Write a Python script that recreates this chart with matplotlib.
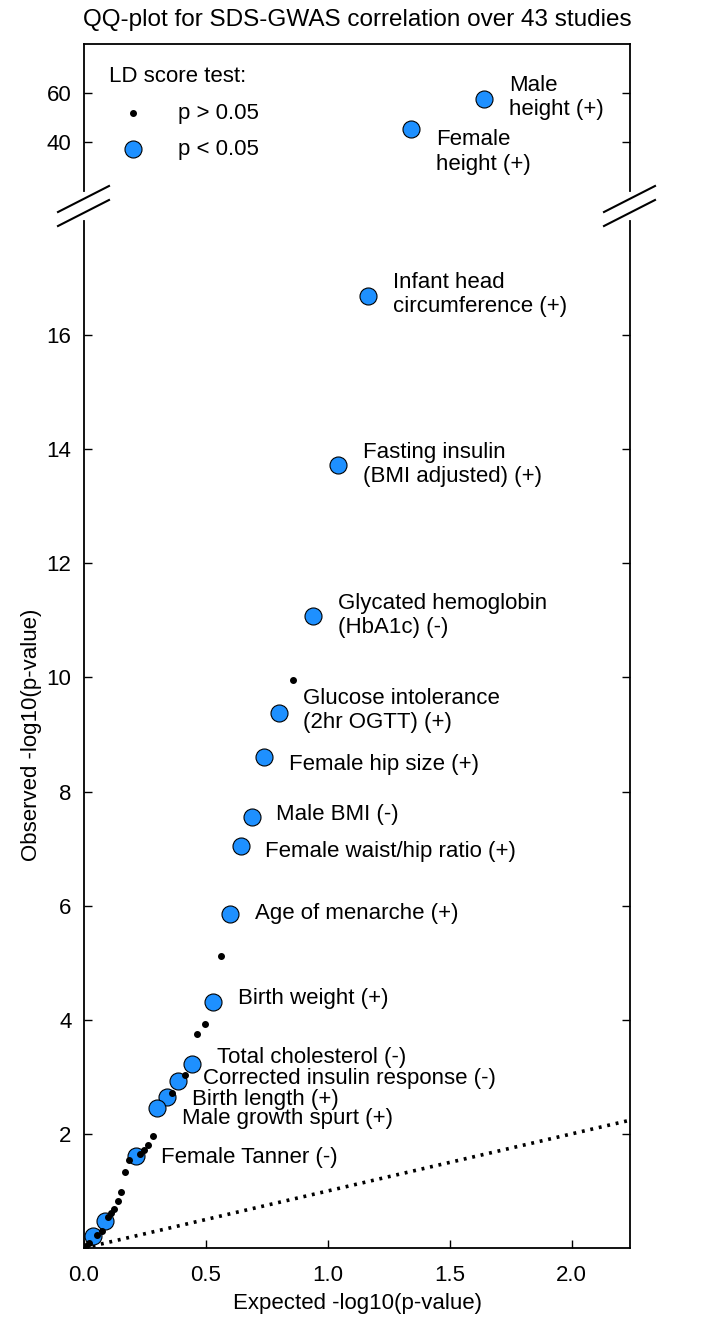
import matplotlib
matplotlib.use('Agg')
import matplotlib.pyplot as plt
import numpy as np

plt.rcParams['font.family'] = ['Liberation Sans', 'DejaVu Sans']

# studies with p < 0.05 (LD score test), labelled
sig_names = ['Male\nheight (+)', 'Female\nheight (+)', 'Infant head\ncircumference (+)',
             'Fasting insulin\n(BMI adjusted) (+)', 'Glycated hemoglobin\n(HbA1c) (-)',
             'Glucose intolerance\n(2hr OGTT) (+)', 'Female hip size (+)', 'Male BMI (-)',
             'Female waist/hip ratio (+)', 'Age of menarche (+)', 'Birth weight (+)',
             'Total cholesterol (-)', 'Corrected insulin response (-)', 'Birth length (+)',
             'Male growth spurt (+)', 'Female Tanner (-)', '', '']
sig_x = [1.64, 1.34, 1.166, 1.04, 0.94, 0.80, 0.74, 0.69, 0.645, 0.60, 0.529,
         0.443, 0.386, 0.341, 0.30, 0.214, 0.086, 0.038]
sig_y = [57.5, 45.3, 16.68, 13.72, 11.07, 9.37, 8.61, 7.56, 7.04, 5.86, 4.32,
         3.23, 2.93, 2.65, 2.46, 1.61, 0.47, 0.21]

# studies with p > 0.05
ns_x = [0.858, 0.563, 0.497, 0.465, 0.413, 0.361, 0.282, 0.264, 0.245, 0.230,
        0.183, 0.168, 0.152, 0.138, 0.124, 0.111, 0.099, 0.072, 0.055, 0.020, 0.010]
ns_y = [9.95, 5.12, 3.93, 3.75, 3.03, 2.72, 1.96, 1.80, 1.72, 1.65,
        1.54, 1.34, 0.99, 0.82, 0.68, 0.61, 0.55, 0.30, 0.23, 0.08, 0.03]

# label offsets (pixels, dx, dy)
offs = [(25, 2), (25, -23), (25, 2), (25, 1), (25, 1), (24, 3), (25, -8), (24, 2),
        (24, -5), (25, 0), (25, 3), (25, 6), (25, 2), (25, -3), (25, -11), (25, -1),
        (0, 0), (0, 0)]

sig_x = np.array(sig_x)
sig_y = np.array(sig_y)
ns_x = np.array(ns_x)
ns_y = np.array(ns_y)

fig = plt.figure(figsize=(7.28, 13.18), dpi=100)
ax_top = fig.add_axes([0.1154, 0.8551, 0.75, 0.1115])
ax = fig.add_axes([0.1154, 0.0531, 0.75, 0.7792])

blue = '#1E90FF'
for a, upper in ((ax_top, True), (ax, False)):
    ms = (sig_y > 18) if upper else (sig_y <= 18)
    mn = (ns_y > 18) if upper else (ns_y <= 18)
    a.plot([0, 2.3], [0, 2.3], color='black', lw=2.6, linestyle=(0, (0.8, 1.6)), zorder=1)
    a.scatter(ns_x[mn], ns_y[mn], s=16, color='black', zorder=3, label='p > 0.05')
    a.scatter(sig_x[ms], sig_y[ms], s=150, color=blue, edgecolor='black', linewidth=0.8,
              zorder=2, label='p < 0.05')
    a.set_xlim(0, 2.24)
    a.tick_params(direction='in', length=6, width=1, labelsize=16, right=True, pad=9)
    for sp in a.spines.values():
        sp.set_linewidth(1.3)

ax_top.set_ylim(20, 80)
ax_top.set_yticks([40, 60])
ax_top.spines['bottom'].set_visible(False)
ax_top.tick_params(bottom=False, labelbottom=False)

ax.set_ylim(0, 18)
ax.set_yticks([2, 4, 6, 8, 10, 12, 14, 16])
ax.set_xticks([0.0, 0.5, 1.0, 1.5, 2.0])
ax.set_xticklabels(['0.0', '0.5', '1.0', '1.5', '2.0'])
ax.spines['top'].set_visible(False)
ax.tick_params(axis='x', pad=12)

for name, x, y, (dx, dy) in zip(sig_names, sig_x, sig_y, offs):
    if not name:
        continue
    target = ax_top if y > 18 else ax
    target.annotate(name, (x, y), xytext=(dx, dy), textcoords='offset pixels',
                    ha='left', va='center', fontsize=16, linespacing=1.2,
                    zorder=4)

# break marks
for xs in (84, 630):
    for y0 in (212, 226):
        fig.add_artist(plt.Line2D([(xs - 26) / 728, (xs + 25) / 728],
                                  [1 - y0 / 1318, 1 - (y0 - 26) / 1318],
                                  color='black', lw=1.5))

leg = ax_top.legend(loc='upper left', bbox_to_anchor=(0.03, 0.91), frameon=False,
                    title='LD score test:', fontsize=16, title_fontsize=16,
                    alignment='left', handletextpad=0.95, borderaxespad=0,
                    labelspacing=0.7, handlelength=2.15)

ax.set_xlabel('Expected -log10(p-value)', fontsize=16, labelpad=5)
ax.set_ylabel('Observed -log10(p-value)', fontsize=16, labelpad=3)
ax_top.set_title('QQ-plot for SDS-GWAS correlation over 43 studies', fontsize=17.5, pad=13)

fig.savefig('out.png', dpi=100)
